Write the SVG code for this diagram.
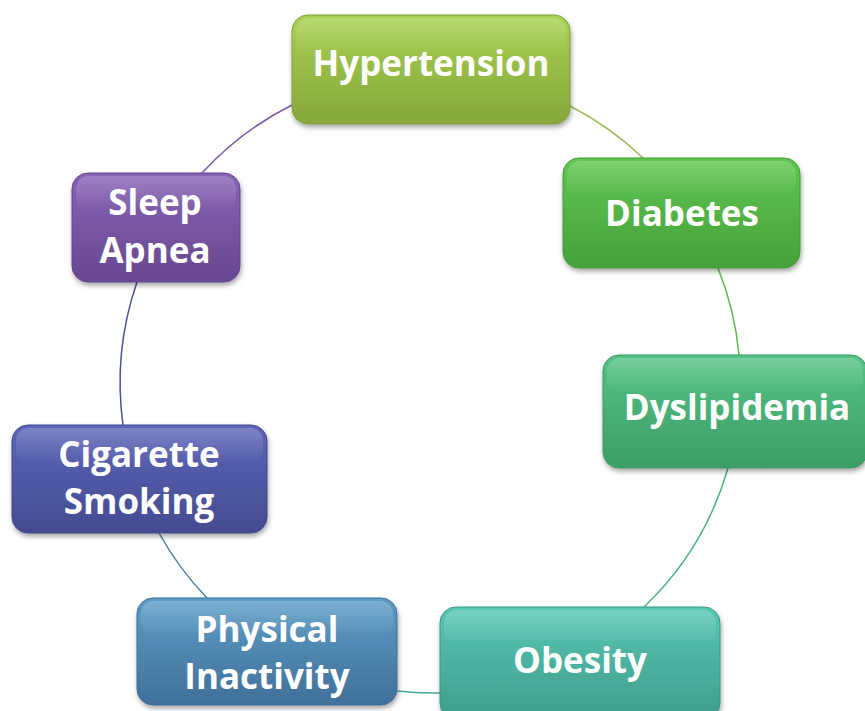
<svg xmlns="http://www.w3.org/2000/svg" width="865" height="711" viewBox="0 0 865 711">
<defs>
<filter id="sh" x="-10%" y="-10%" width="125%" height="130%">
<feDropShadow dx="1" dy="3" stdDeviation="2.5" flood-color="#000" flood-opacity="0.35"/>
</filter>
<linearGradient id="gH" x1="0" y1="0" x2="0" y2="1"><stop offset="0" stop-color="#a9d052"/><stop offset="1" stop-color="#86a73b"/></linearGradient>
<linearGradient id="gD" x1="0" y1="0" x2="0" y2="1"><stop offset="0" stop-color="#60c650"/><stop offset="1" stop-color="#46a13b"/></linearGradient>
<linearGradient id="gY" x1="0" y1="0" x2="0" y2="1"><stop offset="0" stop-color="#54c385"/><stop offset="1" stop-color="#3d9d67"/></linearGradient>
<linearGradient id="gO" x1="0" y1="0" x2="0" y2="1"><stop offset="0" stop-color="#58c6b3"/><stop offset="1" stop-color="#409d8c"/></linearGradient>
<linearGradient id="gP" x1="0" y1="0" x2="0" y2="1"><stop offset="0" stop-color="#5d9dc7"/><stop offset="1" stop-color="#407099"/></linearGradient>
<linearGradient id="gC" x1="0" y1="0" x2="0" y2="1"><stop offset="0" stop-color="#5c65b7"/><stop offset="1" stop-color="#444b91"/></linearGradient>
<linearGradient id="gS" x1="0" y1="0" x2="0" y2="1"><stop offset="0" stop-color="#8762b4"/><stop offset="1" stop-color="#67488f"/></linearGradient>
<linearGradient id="gloss" x1="0" y1="0" x2="0" y2="1"><stop offset="0" stop-color="#fff" stop-opacity="0.2"/><stop offset="1" stop-color="#fff" stop-opacity="0"/></linearGradient>
</defs>
<style>
.box{filter:url(#sh);stroke-width:1}
.gl{fill:url(#gloss)}
.t{font-family:"Open Sans","Liberation Sans",sans-serif;font-weight:700;font-size:35px;fill:#fff;text-anchor:middle}
.c{fill:none;stroke-width:1.5}
</style>
<g id="connectors">
<path class="c" stroke="#9bbb59" d="M570,106 A310,310 0 0 1 643,158"/>
<path class="c" stroke="#5cb84a" d="M718,268 A310,310 0 0 1 739,355"/>
<path class="c" stroke="#4ab57a" d="M728,468 A310,310 0 0 1 644,607"/>
<path class="c" stroke="#46a898" d="M440,693 A310,310 0 0 1 397,691"/>
<path class="c" stroke="#4a7fa8" d="M207,598 A310,310 0 0 1 159,533"/>
<path class="c" stroke="#4a529c" d="M123,425 A310,310 0 0 1 137,282"/>
<path class="c" stroke="#7a58a4" d="M202,173 A310,310 0 0 1 292,105"/>
</g>
<g id="hypertension">
<rect class="box" x="292" y="15" width="278" height="109" rx="16" fill="url(#gH)" stroke="#7e9e36"/>
<rect class="gl" x="296" y="18" width="270" height="36" rx="13"/>
<text class="t" x="431" y="76">Hypertension</text>
</g>
<g id="diabetes">
<rect class="box" x="563" y="158" width="237" height="110" rx="16" fill="url(#gD)" stroke="#429a37"/>
<rect class="gl" x="567" y="161" width="229" height="36" rx="13"/>
<text class="t" x="682" y="226">Diabetes</text>
</g>
<g id="dyslipidemia">
<rect class="box" x="603" y="355" width="264" height="113" rx="16" fill="url(#gY)" stroke="#3a9762"/>
<rect class="gl" x="607" y="358" width="256" height="36" rx="13"/>
<text class="t" x="737" y="420">Dyslipidemia</text>
</g>
<g id="obesity">
<rect class="box" x="440" y="607" width="280" height="112" rx="16" fill="url(#gO)" stroke="#3c9685"/>
<rect class="gl" x="444" y="610" width="272" height="36" rx="13"/>
<text class="t" x="580" y="673">Obesity</text>
</g>
<g id="physical-inactivity">
<rect class="box" x="137" y="598" width="260" height="107" rx="16" fill="url(#gP)" stroke="#3d6c94"/>
<rect class="gl" x="141" y="601" width="252" height="36" rx="13"/>
<text class="t" x="267" y="642">Physical</text>
<text class="t" x="267" y="689">Inactivity</text>
</g>
<g id="cigarette-smoking">
<rect class="box" x="12" y="425" width="255" height="108" rx="16" fill="url(#gC)" stroke="#41478a"/>
<rect class="gl" x="16" y="428" width="247" height="36" rx="13"/>
<text class="t" x="139" y="467">Cigarette</text>
<text class="t" x="139" y="514">Smoking</text>
</g>
<g id="sleep-apnea">
<rect class="box" x="72" y="173" width="168" height="109" rx="16" fill="url(#gS)" stroke="#634589"/>
<rect class="gl" x="76" y="176" width="160" height="36" rx="13"/>
<text class="t" x="155" y="215">Sleep</text>
<text class="t" x="155" y="263">Apnea</text>
</g>
</svg>
